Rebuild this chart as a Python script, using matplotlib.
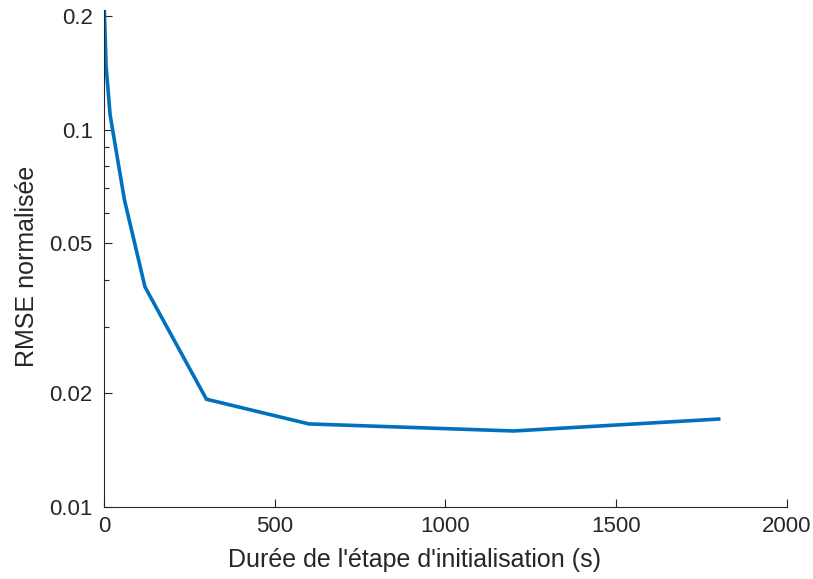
import matplotlib
matplotlib.use("Agg")
import matplotlib.pyplot as plt
from matplotlib.ticker import FixedLocator, NullFormatter

plt.rcParams['font.family'] = ['Liberation Sans', 'DejaVu Sans']

durations = [1, 6, 18, 60, 120, 300, 600, 1200, 1800]
rmse = [0.2075, 0.148, 0.1093, 0.0651, 0.0383, 0.0193, 0.0166, 0.0159, 0.0171]

xticks = [0, 500, 1000, 1500, 2000]
yticks = [0.01, 0.02, 0.05, 0.1, 0.2]
ytick_labels = ['0.01', '0.02', '0.05', '0.1', '0.2']
yminor = [0.03, 0.04, 0.06, 0.07, 0.08, 0.09]

fig = plt.figure(figsize=(8.13, 5.79), dpi=100)
ax = fig.add_axes([0.1279, 0.1244, 0.968 - 0.1279, 0.9827 - 0.1244])

ax.plot(durations, rmse, color='#0072BD', linewidth=2.6, solid_joinstyle='miter')
ax.set_yscale('log')
ax.set_xlim(0, 2000)
ax.set_ylim(0.01, rmse[0])

ax.set_xticks(xticks)
ax.set_xticklabels([str(v) for v in xticks])
ax.yaxis.set_major_locator(FixedLocator(yticks))
ax.set_yticklabels(ytick_labels)
ax.yaxis.set_minor_locator(FixedLocator(yminor))
ax.yaxis.set_minor_formatter(NullFormatter())
ax.xaxis.set_minor_locator(FixedLocator([]))

dark = '#262626'
for s in ['top', 'right']:
    ax.spines[s].set_visible(False)
for s in ['left', 'bottom']:
    ax.spines[s].set_color(dark)
    ax.spines[s].set_linewidth(0.8)

ax.tick_params(axis='x', which='major', direction='in', length=6, width=0.8,
               colors=dark, labelsize=16, pad=6.5)
ax.tick_params(axis='y', which='major', direction='in', length=6, width=0.8,
               colors=dark, labelsize=16, pad=8)
ax.tick_params(axis='y', which='minor', direction='in', length=3.5, width=0.8, colors=dark)

ax.set_xlabel("Durée de l'étape d'initialisation (s)", fontsize=18, color=dark)
ax.set_ylabel("RMSE normalisée", fontsize=18, color=dark)
ax.xaxis.set_label_coords(0.455, -0.083)
ax.yaxis.set_label_coords(-0.095, 0.484)

fig.savefig('out.png', dpi=100)
